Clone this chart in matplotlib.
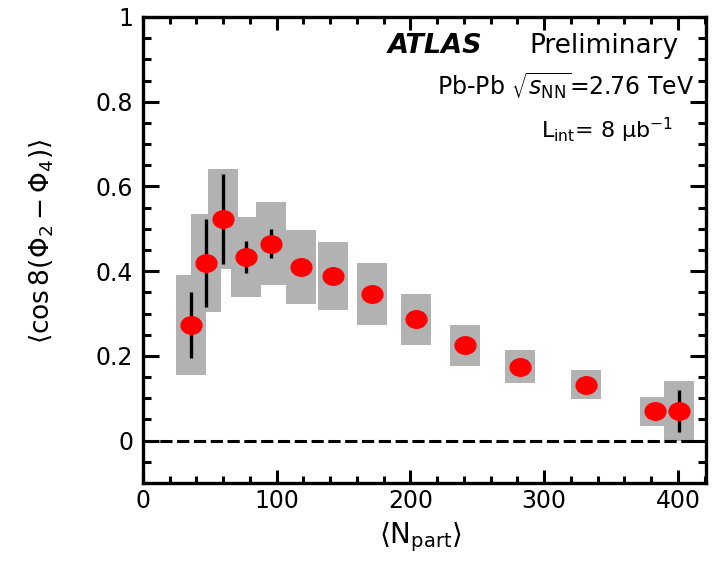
import numpy as np
import matplotlib
matplotlib.use("Agg")
import matplotlib.pyplot as plt
from matplotlib.path import Path
from matplotlib.transforms import Affine2D
from matplotlib.ticker import MultipleLocator, FixedLocator, FuncFormatter

plt.rcParams["font.family"] = ["DejaVu Sans"]
plt.rcParams["mathtext.fontset"] = "dejavusans"

# <N_part> per centrality bin and the event-plane correlator
npart = [36, 47, 60, 77, 96, 118, 142, 171, 204, 241, 282, 331, 383, 401]
corr = [0.273, 0.419, 0.523, 0.433, 0.465, 0.410, 0.388, 0.346, 0.286,
        0.225, 0.174, 0.132, 0.069, 0.070]
stat_err = [0.077, 0.103, 0.107, 0.038, 0.034, 0.018, 0.016, 0.015, 0.014,
            0.013, 0.012, 0.012, 0.014, 0.049]
sys_err = [0.119, 0.115, 0.118, 0.094, 0.098, 0.087, 0.080, 0.073, 0.061,
           0.049, 0.039, 0.034, 0.034, 0.070]

x_ticks = [0, 100, 200, 300, 400]
y_ticks = [0, 0.2, 0.4, 0.6, 0.8, 1.0]

npart = np.array(npart, dtype=float)
corr = np.array(corr)
stat_err = np.array(stat_err)
sys_err = np.array(sys_err)

fig = plt.figure(figsize=(7.21, 5.63), dpi=100)
ax = fig.add_axes([143 / 721, 1 - 483 / 563, (706 - 143) / 721, (483 - 17) / 563])

# systematic uncertainty boxes
ax.bar(npart, 2 * sys_err, bottom=corr - sys_err, width=22.5,
       color="#b2b2b2", linewidth=0, zorder=1)

# zero reference line
ax.axhline(0, color="black", lw=2.2, ls=(0, (4, 1.5)), zorder=2)

# statistical error bars
ax.errorbar(npart, corr, yerr=stat_err, fmt="none", ecolor="black",
            elinewidth=2.4, capsize=0, zorder=3)

# slightly flattened round markers
ellipse = Path.unit_circle().transformed(Affine2D().scale(1.0, 0.84))
ax.plot(npart, corr, ls="none", marker=ellipse, ms=15,
        color="#ff0000", mec="#ff0000", zorder=4)

ax.set_xlim(0, 421)
ax.set_ylim(-0.1, 1.0)

ax.xaxis.set_major_locator(FixedLocator(x_ticks))
ax.xaxis.set_minor_locator(MultipleLocator(20))
ax.yaxis.set_major_locator(FixedLocator(y_ticks))
ax.yaxis.set_minor_locator(MultipleLocator(0.05))
ax.yaxis.set_major_formatter(FuncFormatter(lambda v, p: f"{v:g}"))

for s in ax.spines.values():
    s.set_linewidth(2.4)

ax.tick_params(axis="both", which="both", direction="in", top=True, right=True,
               width=2.2, labelsize=17)
ax.tick_params(axis="y", which="major", length=11.5, pad=7)
ax.tick_params(axis="y", which="minor", length=5.8)
ax.tick_params(axis="x", which="major", length=9.5, pad=4)
ax.tick_params(axis="x", which="minor", length=4.7)

ax.set_xlabel(r"$\langle \mathrm{N}_{\mathrm{part}} \rangle$", fontsize=20)
ax.xaxis.set_label_coords((420 - 143) / 563, -0.08)
ax.set_ylabel(r"$\langle \cos8(\Phi_{2} - \Phi_{4}) \rangle$", fontsize=19)
ax.yaxis.set_label_coords(-0.155, 0.52)

def axfrac(px, py):
    return (px - 143) / 563, (483 - py) / 466

tx, ty = axfrac(388, 53)
ax.text(tx, ty, "ATLAS", transform=ax.transAxes, fontsize=19.5,
        fontweight="bold", fontstyle="italic", ha="left", va="baseline")
tx, ty = axfrac(678, 53)
ax.text(tx, ty, "Preliminary", transform=ax.transAxes, fontsize=19,
        ha="right", va="baseline")
tx, ty = axfrac(694, 95)
ax.text(tx, ty, r"Pb-Pb $\sqrt{s_{\mathrm{NN}}}$=2.76 TeV",
        transform=ax.transAxes, fontsize=17, ha="right", va="baseline")
tx, ty = axfrac(673, 138)
ax.text(tx, ty, r"L$_{\mathrm{int}}$= 8 $\mathrm{\mu}$b$^{-1}$",
        transform=ax.transAxes, fontsize=16, ha="right", va="baseline")

fig.savefig("out.png", dpi=100)
